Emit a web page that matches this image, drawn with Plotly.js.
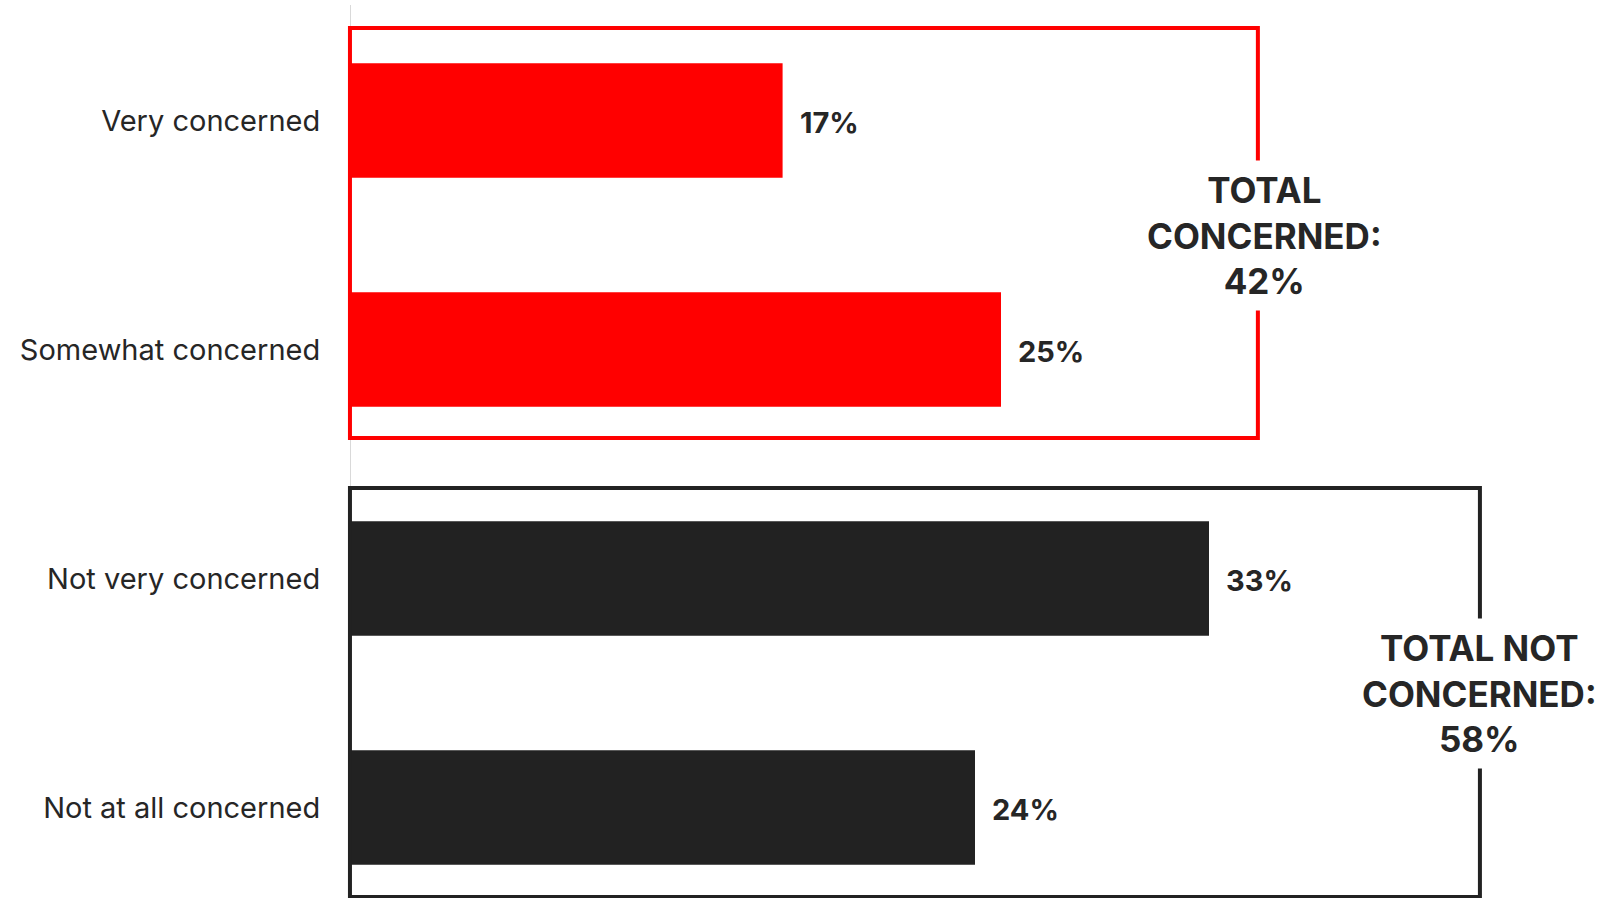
<!DOCTYPE html>
<html>
<head>
<meta charset="utf-8">
<script src="https://cdn.plot.ly/plotly-3.0.1.min.js"></script>
<style>html,body{margin:0;padding:0;background:#fff;}#chart{width:1609px;height:898px;}</style>
</head>
<body>
<div id="chart"></div>
<script>
// ---- data ----
const categories = ["Very concerned", "Somewhat concerned", "Not very concerned", "Not at all concerned"];
const values = [16.6, 25, 33, 24];
const valueLabels = ["17%", "25%", "33%", "24%"];
const barColors = ["#FF0000", "#FF0000", "#222222", "#222222"];
const groupLabels = ["TOTAL<br>CONCERNED:<br>42%", "TOTAL NOT<br>CONCERNED:<br>58%"];
const groupColors = ["#FF0000", "#222222"];

const FONT = "Inter, 'Liberation Sans', Arial, sans-serif";
const TXT = "#262626";

const X_RANGE = [0, 45];
const Y_RANGE = [3.395, -0.5044];

const trace = {
  type: "bar",
  orientation: "h",
  y: categories,
  x: values,
  marker: {color: barColors, line: {width: 0}},
  hoverinfo: "skip"
};

const annotations = values.map((v, i) => ({
  x: v, y: categories[i], xref: "x", yref: "y",
  text: "<b>" + valueLabels[i] + "</b>",
  showarrow: false, xanchor: "left", yanchor: "middle", xshift: 15, yshift: -2,
  font: {family: FONT, size: 29, color: TXT}
}));

// group boxes (styling positions, in axis units, converted to paper so they are not clipped)
const boxes = [
  {x0: -0.04, x1: 34.88, y0: -0.404, y1: 1.386, lx: 35.15, ly: 0.5},
  {x0: -0.04, x1: 43.42, y0: 1.605, y1: 3.391, lx: 43.42, ly: 2.5}
];
const px = x => (x - X_RANGE[0]) / (X_RANGE[1] - X_RANGE[0]);
const py = y => (Y_RANGE[0] - y) / (Y_RANGE[0] - Y_RANGE[1]);
const shapes = boxes.map((b, i) => ({
  type: "rect", xref: "paper", yref: "paper",
  x0: px(b.x0), x1: px(b.x1), y0: py(b.y0), y1: py(b.y1),
  line: {color: groupColors[i], width: 4}, fillcolor: "rgba(0,0,0,0)", layer: "above"
}));
boxes.forEach((b, i) => {
  annotations.push({
    x: b.lx, y: b.ly, xref: "x", yref: "y",
    text: "<b>" + groupLabels[i] + "</b>",
    showarrow: false, xanchor: "center", yanchor: "middle", align: "center",
    bgcolor: "#ffffff", borderpad: 8,
    font: {family: FONT, size: 35, color: TXT}
  });
});

const layout = {
  width: 1609, height: 898,
  margin: {l: 351, r: 88, t: 5, b: 0, pad: 0},
  paper_bgcolor: "#ffffff", plot_bgcolor: "#ffffff",
  showlegend: false,
  bargap: 0.5,
  xaxis: {range: X_RANGE, visible: false, showgrid: false, zeroline: false, fixedrange: true},
  yaxis: {
    type: "category", range: Y_RANGE,
    showline: true, linecolor: "#d9d9d9", linewidth: 1,
    showgrid: false, zeroline: false, ticks: "",
    ticklabelstandoff: 24,
    tickfont: {family: FONT, size: 29, color: TXT},
    fixedrange: true
  },
  shapes: shapes,
  annotations: annotations
};

Plotly.newPlot("chart", [trace], layout, {displayModeBar: false, staticPlot: true});
</script>
</body>
</html>
